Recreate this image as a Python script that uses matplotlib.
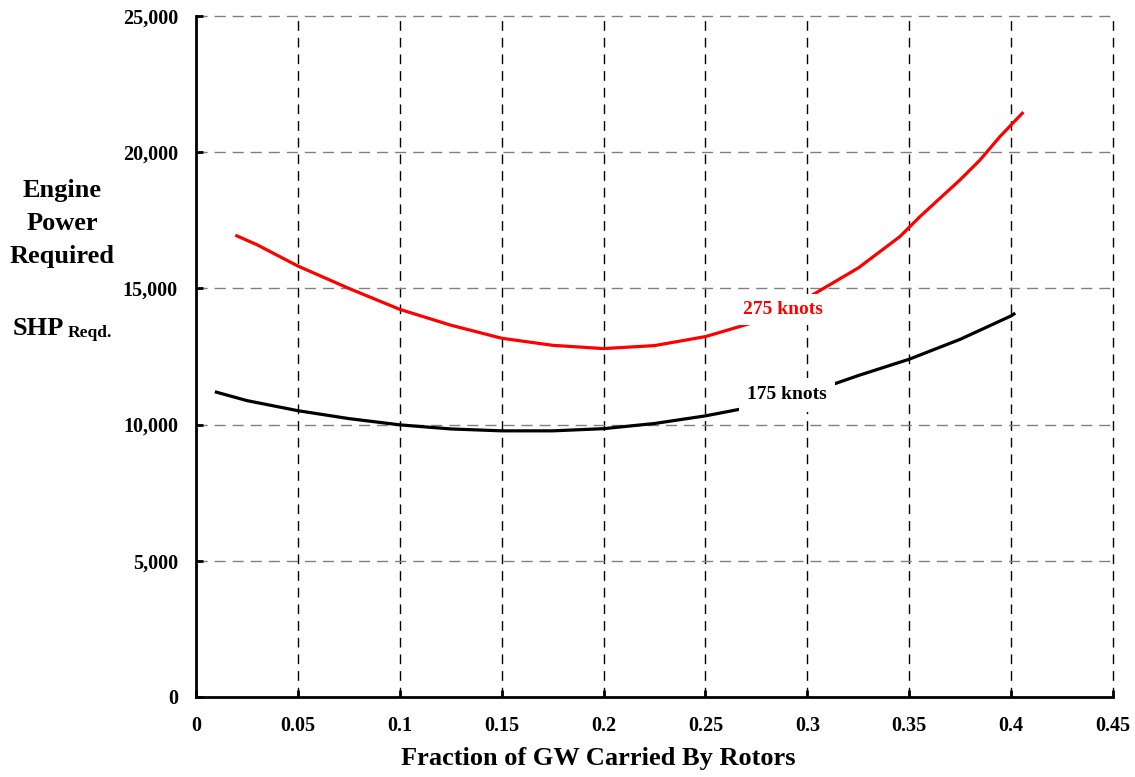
import matplotlib.pyplot as plt
from matplotlib.ticker import FuncFormatter

plt.rcParams['font.family'] = ['Liberation Serif', 'DejaVu Serif']
plt.rcParams['font.weight'] = 'bold'

# fraction of gross weight carried by the rotors
frac_275 = [0.02, 0.03, 0.05, 0.075, 0.10, 0.125, 0.15, 0.175, 0.20, 0.225,
            0.25, 0.275, 0.30, 0.325, 0.3454, 0.3552, 0.3651, 0.3749, 0.3847,
            0.3945, 0.4055]
shp_275 = [16930, 16600, 15820, 15000, 14230, 13650, 13170, 12910, 12790, 12900,
           13230, 13780, 14650, 15750, 16900, 17630, 18310, 18980, 19710,
           20570, 21430]

frac_175 = [0.01, 0.025, 0.05, 0.075, 0.10, 0.125, 0.15, 0.175, 0.20, 0.225,
            0.25, 0.275, 0.30, 0.325, 0.35, 0.375, 0.40, 0.4014]
shp_175 = [11190, 10880, 10510, 10220, 9990, 9840, 9770, 9770, 9850, 10040,
           10320, 10680, 11150, 11800, 12400, 13130, 13990, 14060]

x_ticks = [0, 0.05, 0.1, 0.15, 0.2, 0.25, 0.3, 0.35, 0.4, 0.45]
y_ticks = [0, 5000, 10000, 15000, 20000, 25000]

fig = plt.figure(figsize=(11.35, 7.77), dpi=100)
ax = fig.add_axes([0.1727, 0.103, 0.8079, 0.8764])

ax.plot(frac_275, shp_275, color='#ff0000', lw=2.3, zorder=3)
ax.plot(frac_175, shp_175, color='black', lw=2.3, zorder=3)

ax.set_xlim(0, 0.45)
ax.set_ylim(0, 25000)
ax.set_xticks(x_ticks)
ax.set_yticks(y_ticks)
ax.xaxis.set_major_formatter(FuncFormatter(lambda v, p: '0' if v == 0 else ('%g' % v)))
ax.yaxis.set_major_formatter(FuncFormatter(lambda v, p: '{:,.0f}'.format(v)))

# vertical grid black, horizontal grid grey
for xv in x_ticks[1:]:
    ax.axvline(xv, color='black', lw=1, ls=(0, (7, 5)), zorder=1, clip_on=False)
for yv in y_ticks[1:]:
    ax.axhline(yv, color='#808080', lw=1, ls=(0, (8, 5)), zorder=1, clip_on=False)

for s in ['top', 'right']:
    ax.spines[s].set_visible(False)
for s in ['left', 'bottom']:
    ax.spines[s].set_linewidth(2)
    ax.spines[s].set_zorder(4)

ax.tick_params(axis='both', direction='in', length=5, width=2, labelsize=14.5)
ax.tick_params(axis='y', pad=13)
ax.tick_params(axis='x', pad=14)
for lbl in ax.get_xticklabels() + ax.get_yticklabels():
    lbl.set_fontweight('bold')

ax.text(0.288, 14240, '275 knots', color='#ff0000', fontsize=14, fontweight='bold',
        ha='center', va='center', zorder=5,
        bbox=dict(facecolor='white', edgecolor='none', pad=5))
ax.text(0.290, 11090, '175 knots', color='black', fontsize=14, fontweight='bold',
        ha='center', va='center', zorder=5,
        bbox=dict(facecolor='white', edgecolor='none', pad=6))

fig.text(0.527, 0.024, 'Fraction of GW Carried By Rotors', fontsize=19, fontweight='bold',
         ha='center', va='center')

fig.text(0.055, 0.712, 'Engine\nPower\nRequired', fontsize=19, fontweight='bold',
         ha='center', va='center', linespacing=1.55)
fig.text(0.0115, 0.569, 'SHP', fontsize=19, fontweight='bold', ha='left', va='baseline')
fig.text(0.060, 0.566, 'Reqd.', fontsize=12.5, fontweight='bold', ha='left', va='baseline')

fig.savefig('out.png', dpi=100)
